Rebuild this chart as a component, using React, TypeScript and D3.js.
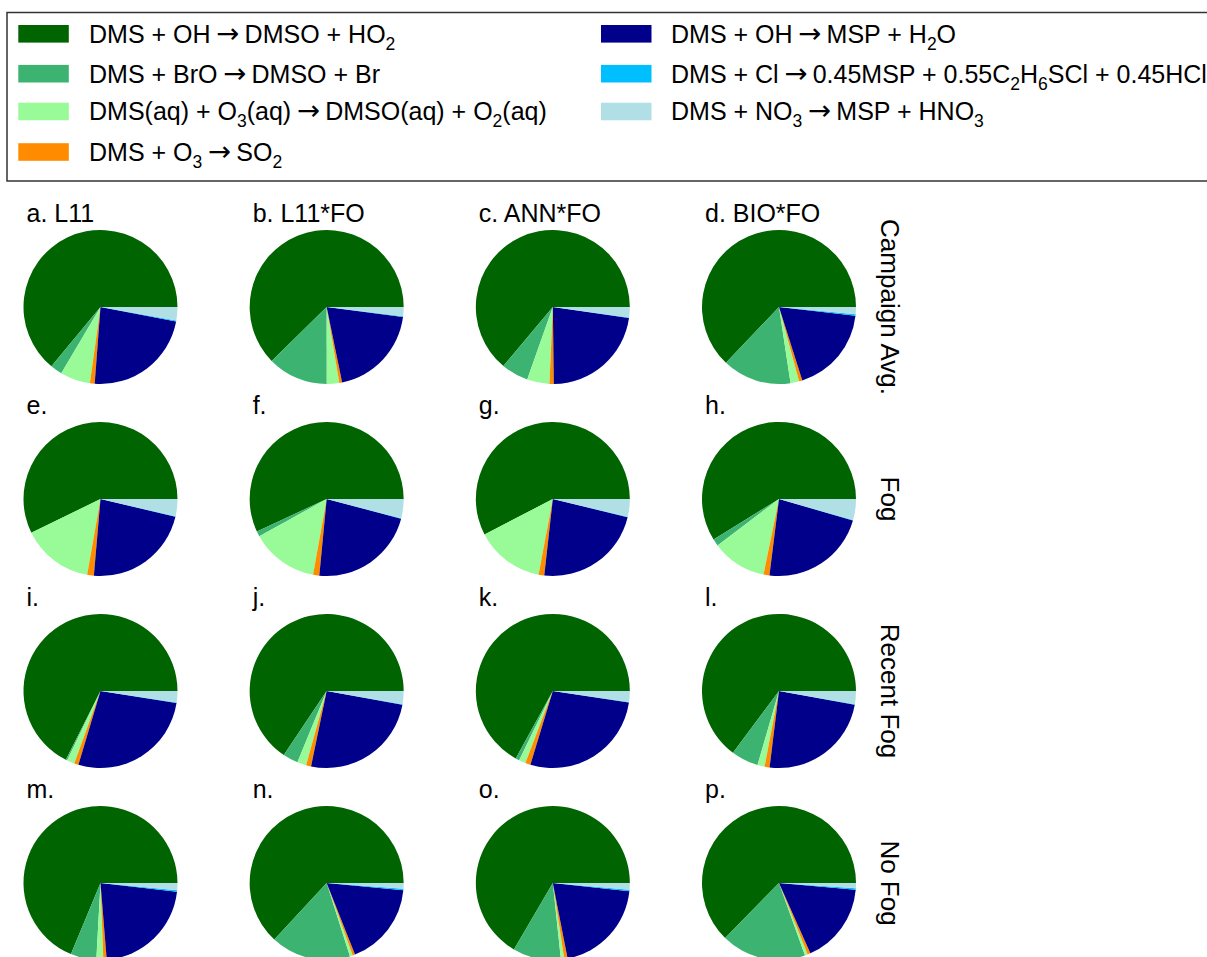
import React from 'react';
import * as d3 from 'd3';

// Panel titles, column model names and row conditions
const panelLetters = ['a', 'b', 'c', 'd', 'e', 'f', 'g', 'h', 'i', 'j', 'k', 'l', 'm', 'n', 'o', 'p'];
const columnNames = ['L11', 'L11*FO', 'ANN*FO', 'BIO*FO'];
const rowNames = ['Campaign Avg.', 'Fog', 'Recent Fog', 'No Fog'];

// Oxidation pathways (subscripts written as _{..})
const reactionLabels = [
  'DMS + OH → DMSO + HO_{2}',
  'DMS + BrO → DMSO + Br',
  'DMS(aq) + O_{3}(aq) → DMSO(aq) + O_{2}(aq)',
  'DMS + O_{3} → SO_{2}',
  'DMS + OH → MSP + H_{2}O',
  'DMS + Cl → 0.45MSP + 0.55C_{2}H_{6}SCl + 0.45HCl',
  'DMS + NO_{3} → MSP + HNO_{3}',
];
const reactionColors = ['#006400', '#3cb371', '#98fb98', '#ff8c00', '#00008b', '#00bfff', '#b0e0e6'];

// Share (%) of DMS loss through each pathway, panels a–p
const ohDmso = [64.0, 62.4, 63.9, 62.9, 57.3, 56.9, 57.7, 58.9, 67.5, 65.6, 67.0, 64.8, 68.7, 63.1, 66.5, 62.6];
const broDmso = [2.5, 12.7, 5.7, 14.5, 0.0, 1.1, 0.0, 1.45, 0.3, 3.2, 0.8, 5.7, 5.4, 16.8, 10.1, 17.8];
const aqO3Dmso = [6.3, 2.6, 4.7, 1.8, 15.0, 14.1, 14.4, 11.5, 1.6, 1.9, 1.4, 1.5, 1.45, 0.6, 0.7, 0.6];
const o3So2 = [1.0, 0.6, 0.9, 0.7, 1.4, 1.3, 1.2, 1.25, 0.9, 1.05, 1.1, 1.05, 0.7, 0.5, 0.7, 0.6];
const ohMsp = [23.2, 19.7, 22.5, 18.3, 22.7, 22.4, 23.0, 22.5, 27.1, 25.4, 27.3, 24.1, 21.9, 17.5, 20.2, 16.9];
const clMsp = [0.2, 0.2, 0.1, 0.3, 0.1, 0.1, 0.1, 0.1, 0.1, 0.1, 0.1, 0.1, 0.3, 0.3, 0.3, 0.3];
const no3Msp = [2.8, 1.9, 2.2, 1.5, 3.6, 4.0, 3.7, 4.4, 2.4, 2.75, 2.3, 2.75, 1.5, 1.2, 1.4, 1.1];

const pathways = [ohDmso, broDmso, aqO3Dmso, o3So2, ohMsp, clMsp, no3Msp];

const FONT = '"Liberation Sans", Arial, Helvetica, sans-serif';
const ARROW_FONT = '"DejaVu Sans ExtraLight", "DejaVu Sans", sans-serif';
const W = 1207;
const H = 957;
const R = 77;

const colX = d3.scaleLinear().domain([0, 3]).range([100.5, 779]);
const rowY = d3.scaleLinear().domain([0, 3]).range([307, 883]);

// Wedges start at 3 o'clock and run counter-clockwise
const pie = d3
  .pie<number>()
  .sort(null)
  .value((d) => d)
  .startAngle(Math.PI / 2)
  .endAngle(Math.PI / 2 - 2 * Math.PI);
const arc = d3.arc<d3.PieArcDatum<number>>().innerRadius(0).outerRadius(R);

type Part = { s: string; sub: boolean; arrow: boolean };

function splitLabel(text: string): Part[] {
  const parts: Part[] = [];
  const re = /_\{([^}]*)\}|\s*→\s*/g;
  let last = 0;
  let m: RegExpExecArray | null;
  while ((m = re.exec(text)) !== null) {
    if (m.index > last) parts.push({ s: text.slice(last, m.index), sub: false, arrow: false });
    if (m[1] !== undefined) parts.push({ s: m[1], sub: true, arrow: false });
    else parts.push({ s: '→', sub: false, arrow: true });
    last = m.index + m[0].length;
  }
  if (last < text.length) parts.push({ s: text.slice(last), sub: false, arrow: false });
  return parts;
}

function RichText({ text, x, y, size }: { text: string; x: number; y: number; size: number }) {
  const parts = splitLabel(text);
  const shift = size * 0.28;
  const gap = size * 0.22;
  let offset = 0;
  let pendingDx = 0;
  return (
    <text x={x} y={y} fontSize={size} fontFamily={FONT} fill="#000" style={{ whiteSpace: 'pre' }}>
      {parts.map((p, i) => {
        const target = p.sub ? shift : 0;
        const dy = target - offset;
        offset = target;
        let dx = pendingDx;
        pendingDx = 0;
        if (p.arrow) {
          dx += gap;
          pendingDx = gap;
          return (
            <tspan key={i} dx={dx} dy={dy} fontFamily={ARROW_FONT} fontSize={size * 1.1}>
              {p.s}
            </tspan>
          );
        }
        return (
          <tspan key={i} dx={dx} dy={dy} fontSize={p.sub ? size * 0.7 : size}>
            {p.s}
          </tspan>
        );
      })}
    </text>
  );
}

export default function App() {
  const legendRowsY = [33.8, 73.7, 111.5, 152];
  const legendCols = [
    { patchX: 18.3, textX: 89, items: [0, 1, 2, 3] },
    { patchX: 601, textX: 671, items: [4, 5, 6] },
  ];

  return (
    <svg
      width={W}
      height={H}
      viewBox={`0 0 ${W} ${H}`}
      style={{ position: 'absolute', left: 0, top: 0, background: '#fff' }}
    >
      <rect x={0} y={0} width={W} height={H} fill="#fff" />

      {/* legend */}
      <rect x={7} y={12.5} width={W + 20} height={168.5} fill="#fff" stroke="#333" strokeWidth={1.5} />
      {legendCols.map((col, ci) =>
        col.items.map((k, ri) => (
          <g key={`${ci}-${ri}`}>
            <rect
              x={col.patchX}
              y={legendRowsY[ri] - 8.8}
              width={50.5}
              height={17.6}
              fill={reactionColors[k]}
            />
            <RichText text={reactionLabels[k]} x={col.textX} y={legendRowsY[ri] + 8.9} size={25} />
          </g>
        ))
      )}

      {/* pies */}
      {panelLetters.map((letter, idx) => {
        const col = idx % 4;
        const row = Math.floor(idx / 4);
        const cx = colX(col);
        const cy = rowY(row);
        const values = pathways.map((p) => p[idx]);
        const arcs = pie(values);
        const title = row === 0 ? `${letter}. ${columnNames[col]}` : `${letter}.`;
        return (
          <g key={letter}>
            <text x={cx - 74} y={cy - R - 8.5} fontSize={25} fontFamily={FONT} fill="#000">
              {title}
            </text>
            <g transform={`translate(${cx},${cy})`}>
              {arcs.map((a, i) =>
                a.value > 0 ? <path key={i} d={arc(a) ?? ''} fill={reactionColors[i]} /> : null
              )}
            </g>
          </g>
        );
      })}

      {/* row labels */}
      {rowNames.map((name, r) => (
        <text
          key={name}
          transform={`translate(881,${rowY(r)}) rotate(90)`}
          textAnchor="middle"
          fontSize={26}
          fontFamily={FONT}
          fill="#000"
        >
          {name}
        </text>
      ))}
    </svg>
  );
}
